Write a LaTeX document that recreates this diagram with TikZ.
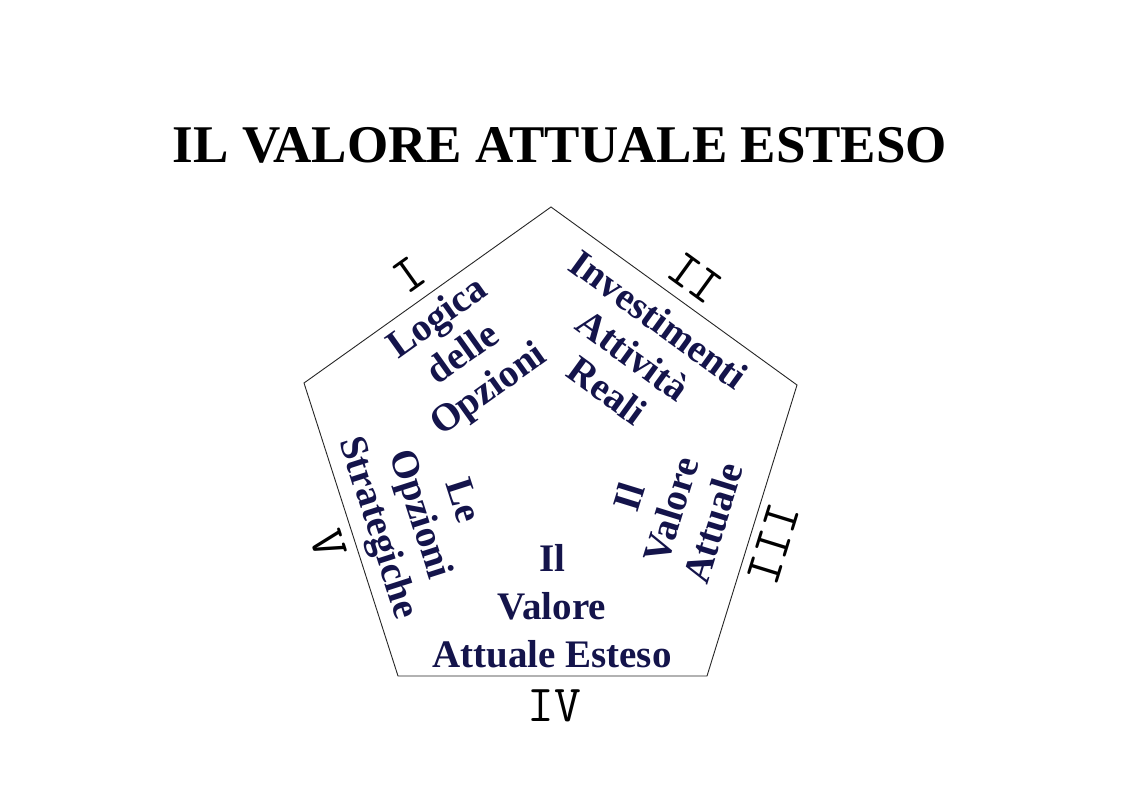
\documentclass[tikz,border=0pt]{standalone}
\usepackage{fontspec}
\setmainfont{Liberation Serif}
\definecolor{navy}{RGB}{20,20,75}
\begin{document}
\begin{tikzpicture}[x=1pt,y=-1pt,
  titletext/.style={font=\fontsize{53}{60}\selectfont\bfseries, text=black, inner sep=0pt},
  num/.style={font=\fontsize{52}{60}\selectfont\ttfamily, text=black, inner sep=0pt},
  blk/.style={font=\fontsize{39}{44}\selectfont\bfseries, text=navy, align=center, inner sep=0pt},
  blkwide/.style={font=\fontsize{39}{48}\selectfont\bfseries, text=navy, align=center, inner sep=0pt},
  edge/.style={draw=black!85, line width=0.9pt, line join=miter}]
\fill[white] (0,0) rectangle (1123,793);
\useasboundingbox (0,0) rectangle (1123,793);
\node[titletext, anchor=base] (title) at (560,162) {IL VALORE ATTUALE ESTESO};
\coordinate (T) at (551,207);
\coordinate (UR) at (797,385);
\coordinate (LR) at (707,676);
\coordinate (LL) at (398,676);
\coordinate (UL) at (304,383);
\draw[edge] (T) -- (UR) -- (LR) -- (LL) -- (UL) -- cycle;
\node[num, rotate=35.5] (n1) at (409,275) {I};
\node[num, rotate=-36] (n2) at (695,278) {II};
\node[num, rotate=72.8] (n3) at (773,544) {III};
\node[num] (n4) at (554,706) {IV};
\node[num, rotate=-72.2] (n5) at (328,544) {V};
\node[blk, rotate=35.5] (b1) at (464,355) {Logica\\delle\\Opzioni};
\node[blk, rotate=-36] (b2) at (633,355) {Investimenti\\Attività\\Reali};
\node[blk, rotate=72.8] (b3) at (671,510) {Il\\Valore\\Attuale};
\node[blkwide] (b4) at (552,606) {Il\\Valore\\Attuale Esteso};
\node[blk, rotate=-72.2] (b5) at (418,515) {Le\\Opzioni\\Strategiche};
\end{tikzpicture}
\end{document}
